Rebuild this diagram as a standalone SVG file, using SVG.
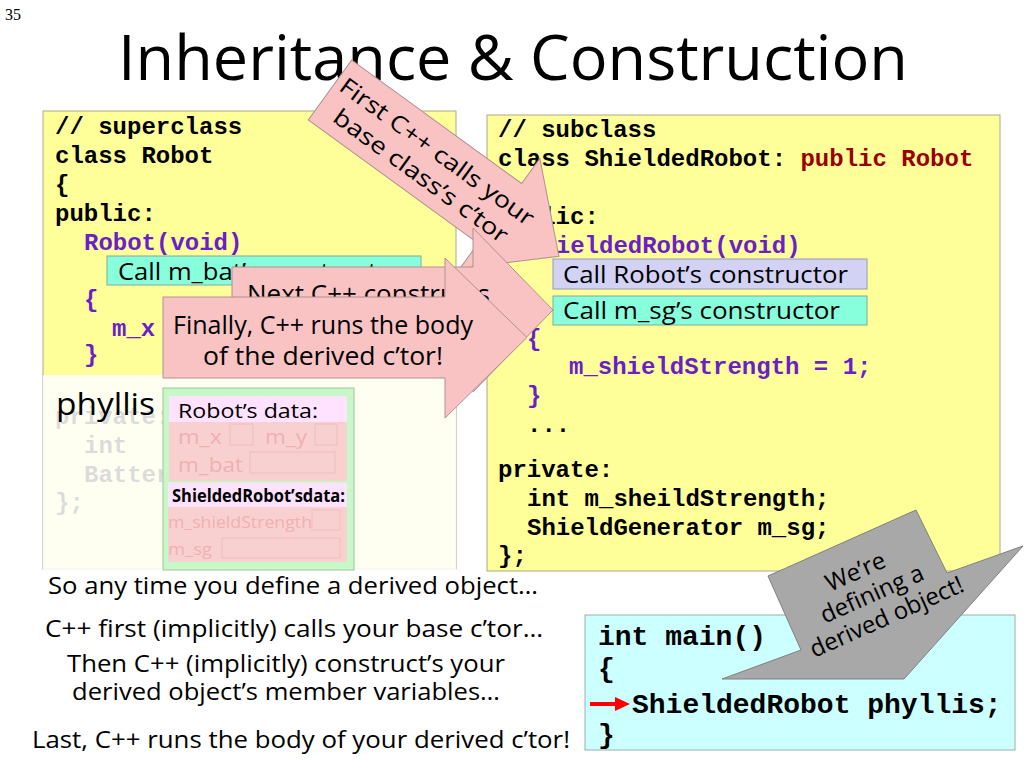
<svg xmlns="http://www.w3.org/2000/svg" width="1024" height="768" viewBox="0 0 1024 768">
<style>
  .code{font-family:"Liberation Mono","Courier New",monospace;font-weight:bold;font-size:24px;fill:#000}
  .big{font-size:28px}
  .purple{fill:#6a1fc8}
  .red{fill:#9a0000}
  .hand{font-family:"Open Sans","Noto Sans",sans-serif;fill:#000}
  .ybox{fill:#ffff99;stroke:#a8a890;stroke-width:1}
  .cyan{fill:#88ffdc;stroke:#80a8a0;stroke-width:1}
  .lav{fill:#d2d2f4;stroke:#9898b8;stroke-width:1}
  .pink{fill:#f9c3c3;stroke:#b09090;stroke-width:1}
  .faded{fill:#f9d0d0}
  .fadedtxt{font-family:"Open Sans","Noto Sans",sans-serif;fill:#efb0b0}
  .slot{fill:none;stroke:#f0bcbc;stroke-width:1}
  .hdr{fill:#ffe2ff}
</style>

<text x="5" y="20" font-family="Liberation Serif,serif" font-size="16">35</text>
<text x="118" y="80" class="hand" font-size="62" textLength="790" lengthAdjust="spacingAndGlyphs">Inheritance &amp; Construction</text>

<g id="superclass">
  <rect class="ybox" x="43" y="111" width="413" height="458"/>
  <text class="code" x="55" y="134">// superclass</text>
  <text class="code" x="55" y="163">class Robot</text>
  <text class="code" x="55" y="192">{</text>
  <text class="code" x="55" y="221">public:</text>
  <text class="code purple" x="84" y="250">Robot(void)</text>
  <rect class="cyan" x="107" y="256" width="314" height="29"/>
  <text class="hand" x="118" y="280" font-size="23" textLength="285" lengthAdjust="spacingAndGlyphs">Call m_bat’s constructor</text>
  <text class="code purple" x="84" y="307">{</text>
  <text class="code purple" x="112" y="336">m_x</text>
  <text class="code purple" x="84" y="362">}</text>
  <text class="code" x="55" y="424">private:</text>
  <text class="code" x="84" y="453">int</text>
  <text class="code" x="84" y="482">Batter</text>
  <text class="code" x="55" y="510">};</text>
</g>

<g id="subclass">
  <rect class="ybox" x="487" y="115" width="513" height="456"/>
  <text class="code" x="498" y="137">// subclass</text>
  <text class="code" x="498" y="166">class ShieldedRobot: <tspan class="red">public Robot</tspan></text>
  <text class="code" x="498" y="195">{</text>
  <text class="code" x="498" y="224">public:</text>
  <text class="code purple" x="527" y="253">ShieldedRobot(void)</text>
  <rect class="lav" x="553" y="259" width="314" height="30"/>
  <text class="hand" x="563" y="283" font-size="23" textLength="285" lengthAdjust="spacingAndGlyphs">Call Robot’s constructor</text>
  <rect class="cyan" x="553" y="296" width="314" height="29"/>
  <text class="hand" x="563" y="319" font-size="23" textLength="277" lengthAdjust="spacingAndGlyphs">Call m_sg’s constructor</text>
  <text class="code purple" x="527" y="346">{</text>
  <text class="code purple" x="569" y="374">m_shieldStrength = 1;</text>
  <text class="code purple" x="527" y="403">}</text>
  <text class="code" x="527" y="432">...</text>
  <text class="code" x="498" y="477">private:</text>
  <text class="code" x="527" y="506">int m_sheildStrength;</text>
  <text class="code" x="527" y="535">ShieldGenerator m_sg;</text>
  <text class="code" x="498" y="563">};</text>
</g>

<g id="phyllis">
  <rect x="43" y="375" width="413" height="197" fill="#ffffff" fill-opacity="0.86"/>
  <text class="hand" x="56" y="415" font-size="31" textLength="99" lengthAdjust="spacingAndGlyphs">phyllis</text>
  <rect x="163" y="388" width="191" height="182" fill="#c8f8c8" stroke="#98c898"/>
  <rect class="hdr" x="169" y="396" width="178" height="26"/>
  <text class="hand" x="178" y="418" font-size="20" textLength="140" lengthAdjust="spacingAndGlyphs">Robot’s data:</text>
  <rect class="faded" x="169" y="422" width="178" height="59"/>
  <text class="fadedtxt" x="178" y="444" font-size="20" textLength="44" lengthAdjust="spacingAndGlyphs">m_x</text>
  <rect class="slot" x="230" y="424" width="23" height="21"/>
  <text class="fadedtxt" x="265" y="444" font-size="20" textLength="42" lengthAdjust="spacingAndGlyphs">m_y</text>
  <rect class="slot" x="315" y="424" width="22" height="21"/>
  <text class="fadedtxt" x="178" y="472" font-size="20" textLength="65" lengthAdjust="spacingAndGlyphs">m_bat</text>
  <rect class="slot" x="250" y="452" width="85" height="21"/>
  <rect class="hdr" x="168" y="483" width="179" height="24"/>
  <text class="hand" x="172" y="502" font-size="17" font-weight="bold" textLength="173" lengthAdjust="spacingAndGlyphs">ShieldedRobot’sdata:</text>
  <rect class="faded" x="168" y="507" width="179" height="55"/>
  <text class="fadedtxt" x="168" y="528" font-size="16" textLength="144" lengthAdjust="spacingAndGlyphs">m_shieldStrength</text>
  <rect class="slot" x="312" y="510" width="28" height="20"/>
  <text class="fadedtxt" x="168" y="555" font-size="16" textLength="44" lengthAdjust="spacingAndGlyphs">m_sg</text>
  <rect class="slot" x="222" y="538" width="118" height="20"/>
</g>

<g id="main">
  <rect x="585" y="615" width="430" height="135" fill="#ccffff" stroke="#98b0b0"/>
  <text class="code big" x="598" y="645">int main()</text>
  <text class="code big" x="598" y="677">{</text>
  <text class="code big" x="632" y="713">ShieldedRobot phyllis;</text>
  <text class="code big" x="598" y="743">}</text>
</g>

<g id="connectors">
  <line x1="590" y1="704" x2="618" y2="704" stroke="#ff0000" stroke-width="4"/>
  <polygon points="615,697 630,704 615,711" fill="#ff0000"/>
</g>

<g id="arrow-first" transform="translate(330,90) rotate(36)">
  <polygon class="pink" points="0,-37 210,-37 210,-68 283,0 210,68 210,37 0,37"/>
  <text class="hand" x="6" y="-5" font-size="23" textLength="234" lengthAdjust="spacingAndGlyphs">First C++ calls your</text>
  <text class="hand" x="19" y="24" font-size="23" textLength="210" lengthAdjust="spacingAndGlyphs">base class’s c’tor</text>
</g>

<g id="arrow-next">
  <polygon class="pink" points="232,267 473,267 473,228 553,310 473,392 473,353 232,353"/>
  <text class="hand" x="247" y="303" font-size="25" textLength="243" lengthAdjust="spacingAndGlyphs">Next C++ constructs</text>
</g>

<g id="arrow-finally">
  <polygon class="pink" points="163,297 445,297 445,258 527,337.5 445,418 445,378 163,378"/>
  <text class="hand" x="323" y="334" font-size="25" text-anchor="middle" textLength="300" lengthAdjust="spacingAndGlyphs">Finally, C++ runs the body</text>
  <text class="hand" x="323" y="365" font-size="25" text-anchor="middle" textLength="240" lengthAdjust="spacingAndGlyphs">of the derived c’tor!</text>
</g>

<g id="callout">
  <polygon points="768,576 916,510 947,573 1023,546 904,679 722,679 801,650" fill="#a8a8a8" stroke="#808080"/>
  <g transform="translate(872,594) rotate(-24)">
    <text class="hand" x="-6" y="-19" font-size="24" text-anchor="middle">We’re</text>
    <text class="hand" x="0" y="8" font-size="24" text-anchor="middle">defining a</text>
    <text class="hand" x="4" y="35" font-size="24" text-anchor="middle">derived object!</text>
  </g>
</g>

<g id="summary">
  <text class="hand" x="293" y="594" font-size="23" text-anchor="middle" textLength="490" lengthAdjust="spacingAndGlyphs">So any time you define a derived object…</text>
  <text class="hand" x="294" y="637" font-size="23" text-anchor="middle" textLength="498" lengthAdjust="spacingAndGlyphs">C++ first (implicitly) calls your base c’tor…</text>
  <text class="hand" x="286" y="672" font-size="23" text-anchor="middle" textLength="438" lengthAdjust="spacingAndGlyphs">Then C++ (implicitly) construct’s your</text>
  <text class="hand" x="286" y="700" font-size="23" text-anchor="middle" textLength="428" lengthAdjust="spacingAndGlyphs">derived object’s member variables…</text>
  <text class="hand" x="301" y="748" font-size="23" text-anchor="middle" textLength="538" lengthAdjust="spacingAndGlyphs">Last, C++ runs the body of your derived c’tor!</text>
</g>
</svg>
